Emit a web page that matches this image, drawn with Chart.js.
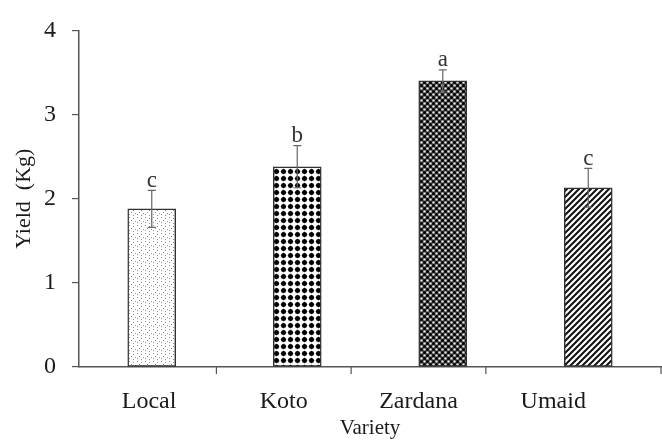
<!DOCTYPE html>
<html>
<head>
<meta charset="utf-8">
<script src="https://cdn.jsdelivr.net/npm/chart.js@4.4.1/dist/chart.umd.min.js"></script>
<style>
  html, body { margin: 0; padding: 0; background: #ffffff; }
  #wrap { width: 662px; height: 441px; }
</style>
</head>
<body>
<div id="wrap"><canvas id="c" width="662" height="441"></canvas></div>
<script>
const categories = ['Local', 'Koto', 'Zardana', 'Umaid'];
const yields = [1.88, 2.38, 3.40, 2.13];
const errors = [0.22, 0.25, 0.13, 0.23];
const letters = ['c', 'b', 'a', 'c'];
const yTicks = [0, 1, 2, 3, 4];
const xTickMarks = [0.5, 1.5, 2.5, 3.8];

const FONT = 'Liberation Serif';

function makePattern(w, h, draw) {
  const c = document.createElement('canvas');
  c.width = w; c.height = h;
  const g = c.getContext('2d');
  draw(g, w, h);
  return document.getElementById('c').getContext('2d').createPattern(c, 'repeat');
}

const stipple = makePattern(8, 8, (g) => {
  g.fillStyle = '#ffffff'; g.fillRect(0, 0, 8, 8);
  g.fillStyle = '#909090';
  [[1,1],[5,2],[3,4],[7,5],[1,6],[5,7]].forEach(([x,y]) => g.fillRect(x, y, 1, 1));
});
const bigDots = makePattern(7, 7, (g) => {
  g.fillStyle = '#ffffff'; g.fillRect(0, 0, 7, 7);
  g.fillStyle = '#cfcfcf'; g.fillRect(0, 3, 7, 1); g.fillRect(3, 0, 1, 7);
  g.fillStyle = '#000000';
  g.beginPath(); g.arc(3.5, 3.5, 2.5, 0, Math.PI * 2); g.fill();
});
const fineCheck = makePattern(6, 6, (g) => {
  g.fillStyle = '#555555'; g.fillRect(0, 0, 6, 6);
  g.fillStyle = '#000000';
  g.beginPath(); g.arc(1.5, 1.5, 1.5, 0, Math.PI * 2); g.arc(4.5, 4.5, 1.5, 0, Math.PI * 2); g.fill();
  g.fillStyle = '#f2f2f2';
  g.beginPath(); g.arc(4.5, 1.5, 1.1, 0, Math.PI * 2); g.fill();
  g.beginPath(); g.arc(1.5, 4.5, 1.1, 0, Math.PI * 2); g.fill();
});
const hatch = makePattern(6, 6, (g) => {
  g.fillStyle = '#ffffff'; g.fillRect(0, 0, 6, 6);
  g.strokeStyle = '#111111'; g.lineWidth = 2;
  g.beginPath();
  g.moveTo(-1, 7); g.lineTo(7, -1);
  g.moveTo(-4, 4); g.lineTo(4, -4);
  g.moveTo(2, 10); g.lineTo(10, 2);
  g.stroke();
});

const errorPlugin = {
  id: 'errorLetters',
  afterDatasetsDraw(chart) {
    const ctx = chart.ctx;
    const xs = chart.scales.xb, ys = chart.scales.y;
    ctx.save();
    ctx.strokeStyle = '#666666';
    ctx.lineWidth = 1.2;
    yields.forEach((v, i) => {
      const x = xs.getPixelForValue(i);
      const yt = ys.getPixelForValue(v + errors[i]);
      const yb = ys.getPixelForValue(v - errors[i]);
      ctx.beginPath();
      ctx.moveTo(x, yt); ctx.lineTo(x, yb);
      ctx.moveTo(x - 4, yt); ctx.lineTo(x + 4, yt);
      ctx.moveTo(x - 4, yb); ctx.lineTo(x + 4, yb);
      ctx.stroke();
      ctx.fillStyle = '#333333';
      ctx.font = '23px "' + FONT + '"';
      ctx.textAlign = 'center';
      ctx.textBaseline = 'bottom';
      ctx.fillText(letters[i], x, yt + 2);
    });
    // x axis tick marks
    const xa = chart.scales.x;
    const bottom = chart.chartArea.bottom;
    ctx.strokeStyle = '#555555';
    ctx.lineWidth = 1.2;
    xTickMarks.forEach(t => {
      const px = xa.getPixelForValue(t);
      ctx.beginPath(); ctx.moveTo(px, bottom); ctx.lineTo(px, bottom + 7); ctx.stroke();
    });
    ctx.restore();
  }
};

new Chart(document.getElementById('c'), {
  type: 'bar',
  data: {
    labels: categories,
    datasets: [{
      data: yields,
      xAxisID: 'xb',
      backgroundColor: [stipple, bigDots, fineCheck, hatch],
      borderColor: '#333333',
      borderWidth: 1.5,
      borderSkipped: false,
      barThickness: 48
    }]
  },
  options: {
    responsive: false,
    animation: false,
    layout: { padding: { top: 23, right: 1, left: 0, bottom: 0 } },
    plugins: { legend: { display: false }, tooltip: { enabled: false } },
    scales: {
      xb: { type: 'category', labels: categories, display: false, offset: true },
      x: {
        type: 'linear', position: 'bottom', min: -0.52, max: 3.8, offset: false,
        afterBuildTicks: s => { s.ticks = categories.map((c, i) => ({ value: i })); },
        afterFit: s => { s.height = 74; },
        ticks: {
          callback: v => categories[v] !== undefined ? categories[v] : '',
          font: { family: FONT, size: 24 }, color: '#1a1a1a',
          padding: 20, maxRotation: 0, autoSkip: false
        },
        grid: { drawOnChartArea: false, drawTicks: false, offset: false },
        border: { display: true, color: '#555555', width: 1.5 },
        title: { display: true, text: 'Variety', font: { family: FONT, size: 21 }, color: '#1a1a1a', padding: { top: 0, bottom: 0 } }
      },
      y: {
        min: 0, max: 4,
        afterBuildTicks: s => { s.ticks = yTicks.map(v => ({ value: v })); },
        afterFit: s => { s.width = 79; },
        ticks: { font: { family: FONT, size: 24 }, color: '#1a1a1a', padding: 16 },
        grid: { drawOnChartArea: false, tickLength: 7, color: '#555555', lineWidth: 1.2 },
        border: { color: '#555555', width: 1.5 },
        title: { display: true, text: 'Yield  (Kg)', font: { family: FONT, size: 22 }, color: '#1a1a1a', padding: { top: 11, bottom: 0 } }
      }
    }
  },
  plugins: [errorPlugin]
});
</script>
</body>
</html>
